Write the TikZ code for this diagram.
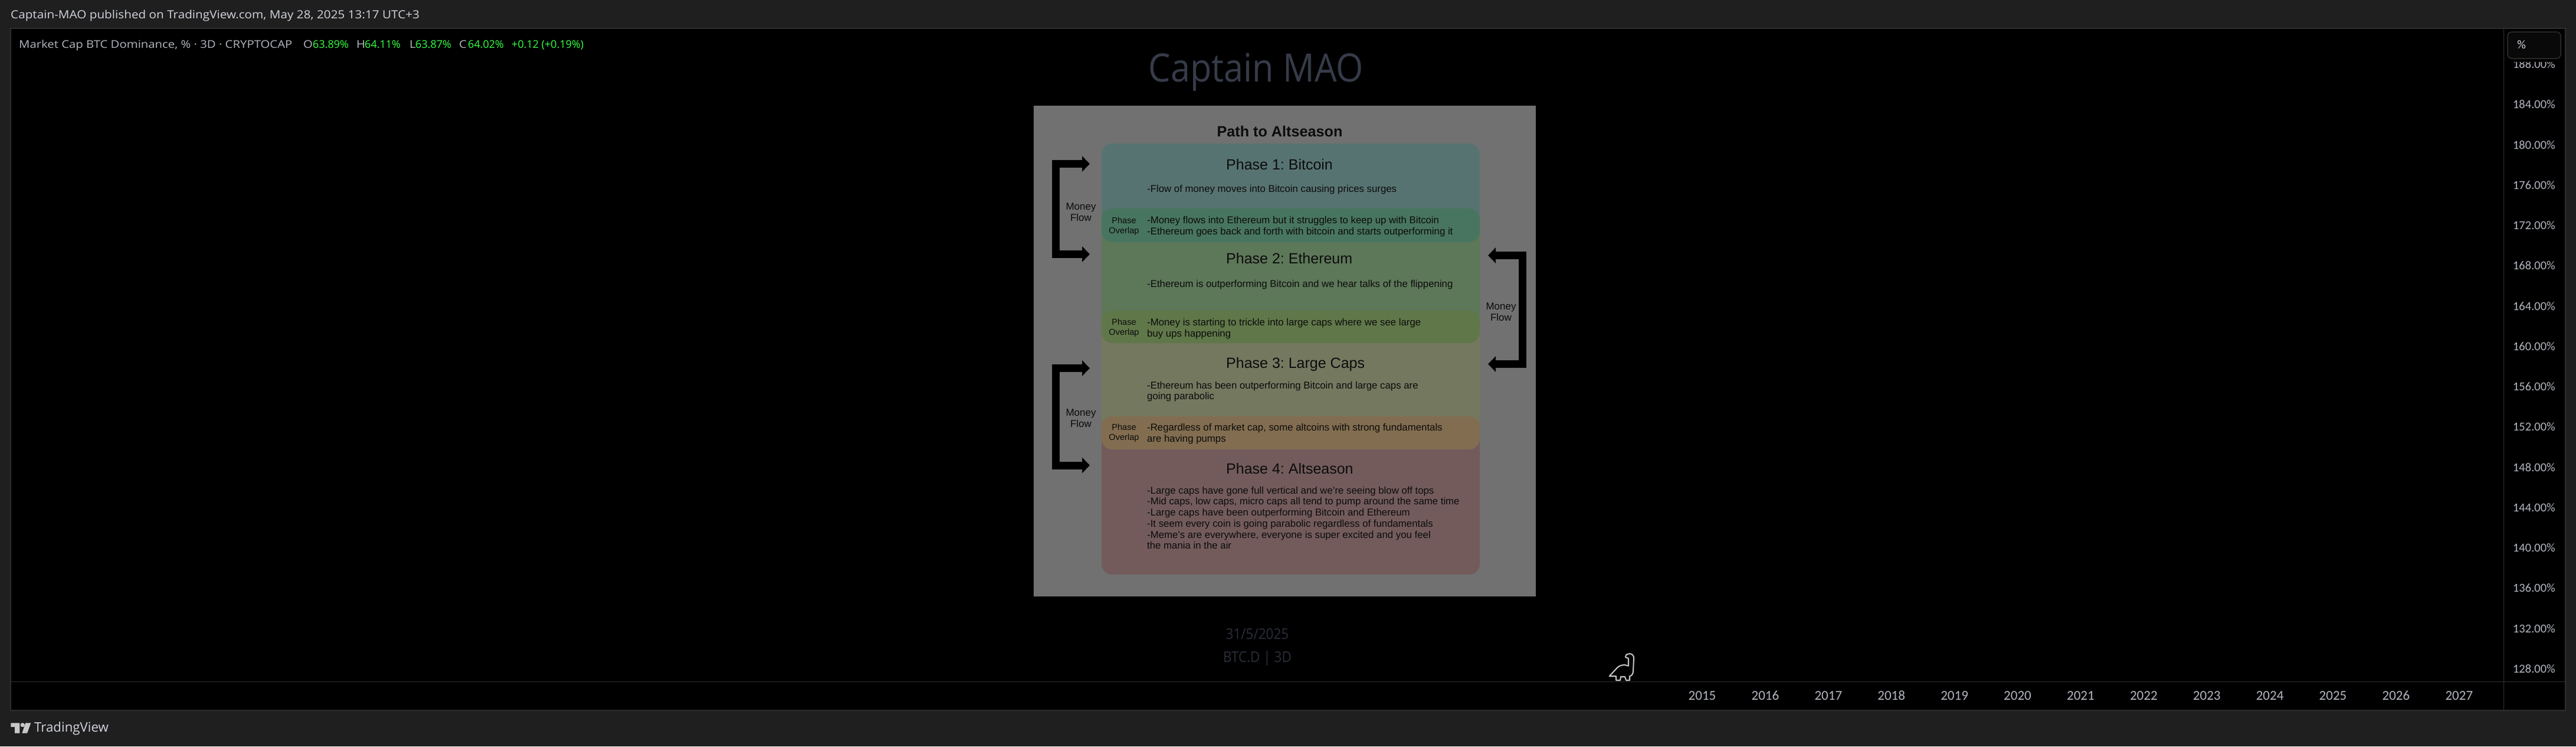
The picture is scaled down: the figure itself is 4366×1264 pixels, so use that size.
\documentclass[tikz,border=0pt]{standalone}
\usepackage{fontspec}
\usetikzlibrary{arrows.meta}
\setmainfont{Liberation Sans}
\newfontfamily\tvfont{Open Sans}
\newfontfamily\pubfont[FakeStretch=1.09]{Open Sans}
\newfontfamily\legendfont[FakeStretch=1.13]{Open Sans}
\newfontfamily\scalefont{Carlito}
\newfontfamily\markfont[FakeStretch=0.9]{Open Sans}

\definecolor{pagebg}{HTML}{1F1F1F}
\definecolor{rulegray}{HTML}{2E2E2E}
\definecolor{labelgray}{HTML}{B2B5BE}
\definecolor{labellight}{HTML}{D1D4DC}
\definecolor{logogray}{HTML}{C8C8C8}
\definecolor{upgreen}{HTML}{33FF44}
\definecolor{markblue}{HTML}{363B49}
\definecolor{markdim}{HTML}{2A2E39}
\definecolor{sheetgray}{HTML}{717171}
\definecolor{phaseone}{HTML}{577371}
\definecolor{phasetwo}{HTML}{5D7759}
\definecolor{phasethree}{HTML}{74785F}
\definecolor{phasefour}{HTML}{735B5C}
\definecolor{overlapone}{HTML}{48755F}
\definecolor{overlaptwo}{HTML}{607749}
\definecolor{overlapthree}{HTML}{826D50}
\definecolor{inkgray}{HTML}{0C0C0C}

\tikzset{
    pricelabel/.style={anchor=east, inner sep=0, text=labelgray, font=\scalefont\fontsize{20.5}{20.5}\selectfont},
    yearlabel/.style={inner sep=0, text=labelgray, font=\scalefont\fontsize{23}{23}\selectfont},
    legendtext/.style={anchor=base west, inner sep=0, text=labelgray, font=\legendfont\fontsize{18}{18}\selectfont},
    legendvalue/.style={anchor=base west, inner sep=0, text=upgreen, font=\tvfont\fontsize{18}{18}\selectfont},
    phasebox/.style={rounded corners=18, minimum width=641, inner sep=0, outer sep=0},
    phasehead/.style={anchor=base west, inner sep=0, text=inkgray, font=\fontsize{25}{25}\selectfont},
    phasebody/.style={anchor=west, align=left, text=inkgray, inner sep=0, font=\fontsize{16.8}{18.7}\selectfont},
    sidelabel/.style={align=center, text=inkgray, inner sep=0, font=\fontsize{14.6}{17}\selectfont},
    flowlabel/.style={align=center, text=inkgray, inner sep=0, font=\fontsize{17}{19}\selectfont},
    flowarrow/.style={line width=13, {Triangle[length=13, width=26]}-{Triangle[length=13, width=26]}},
}

\begin{document}
\frenchspacing
\begin{tikzpicture}[x=1pt, y=-1pt]
    \useasboundingbox (0,0) rectangle (4366,1264);
    \fill [pagebg] (0,0) rectangle (4366,1264);

    % chart area
    \draw [rulegray, line width=2, fill=black] (18,48) rectangle (4348,1203);
    \draw [rulegray, line width=1] (4243,48) -- (4243,1203);
    \draw [rulegray, line width=1] (18,1154) -- (4348,1154);

    % header
    \node [anchor=west, inner sep=0, text=labellight, font=\pubfont\fontsize{19}{19}\selectfont] (published) at (18,27) {Captain-MAO published on TradingView.com, May 28, 2025 13:17 UTC+3};
    \node [legendtext] (legend) at (32,81.5) {Market Cap BTC Dominance, \% · 3D · CRYPTOCAP};
    \node [legendtext] (openkey) at (514,81.5) {O};
    \node [legendvalue] (openval) at (530,81.5) {63.89\%};
    \node [legendtext] (highkey) at (604,81.5) {H};
    \node [legendvalue] (highval) at (618,81.5) {64.11\%};
    \node [legendtext] (lowkey) at (694,81.5) {L};
    \node [legendvalue] (lowval) at (704,81.5) {63.87\%};
    \node [legendtext] (closekey) at (778,81.5) {C};
    \node [legendvalue] (closeval) at (793,81.5) {64.02\%};
    \node [legendvalue] (change) at (867,81.5) {+0.12 (+0.19\%)};

    % price scale
    \foreach \price [count=\i from 0] in {188,184,...,128}
        \node [pricelabel] (price\price) at (4331,{108.8+68.25*\i}) {\price.00\%};
    \fill [black] (4244,50) rectangle (4347,105);
    \draw [rulegray, line width=1.5, fill=black!70!pagebg, rounded corners=7] (4250,54) rectangle (4340,99);
    \node [anchor=west, inner sep=0, text=labellight, font=\scalefont\fontsize{20.5}{20.5}\selectfont] (percent) at (4266,76) {\%};

    % time scale
    \foreach \year [count=\i from 0] in {2015,2016,...,2027}
        \node [yearlabel] (year\year) at ({2885+106.9*\i},1178) {\year};

    % watermark
    \node [text=markblue, inner sep=0, font=\markfont\fontsize{66}{66}\selectfont] (mark) at (2129,122) {Captain MAO};
    \node [text=markdim, inner sep=0, font=\markfont\fontsize{25}{25}\selectfont] (markdate) at (2131,1074) {31/5/2025};
    \node [text=markdim, inner sep=0, font=\markfont\fontsize{25}{25}\selectfont] (marksymbol) at (2131,1115) {BTC.D | 3D};

    % pasted sheet
    \fill [sheetgray] (1752,179) rectangle (2603,1010);
    \node [text=inkgray, inner sep=0, font=\bfseries\fontsize{25.2}{25.2}\selectfont] (sheettitle) at (2169,222) {Path to Altseason};

    \node [phasebox, fill=phaseone, minimum height=138] (phase1) at (2187.5,312) {};
    \node [phasebox, fill=phasetwo, minimum height=173] (phase2) at (2187.5,468) {};
    \node [phasebox, fill=phasethree, minimum height=179] (phase3) at (2187.5,643) {};
    \node [phasebox, fill=phasefour, minimum height=240] (phase4) at (2187.5,853) {};
    \node [phasebox, fill=overlapone, minimum height=57] (overlap1) at (2187.5,381.5) {};
    \node [phasebox, fill=overlaptwo, minimum height=55] (overlap2) at (2187.5,553.5) {};
    \node [phasebox, fill=overlapthree, minimum height=56] (overlap3) at (2187.5,733) {};

    \node [phasehead] (head1) at (2078,287) {Phase 1: Bitcoin};
    \node [phasehead] (head2) at (2078,446) {Phase 2: Ethereum};
    \node [phasehead] (head3) at (2078,623) {Phase 3: Large Caps};
    \node [phasehead] (head4) at (2078,802) {Phase 4: Altseason};

    \node [phasebody] (body1) at (1944,321) {-Flow of money moves into Bitcoin causing prices surges};
    \node [phasebody] (body2) at (1944,482) {-Ethereum is outperforming Bitcoin and we hear talks of the flippening};
    \node [phasebody] (body3) at (1944,663) {-Ethereum has been outperforming Bitcoin and large caps are\\going parabolic};
    \node [phasebody] (body4) at (1944,877) {-Large caps have gone full vertical and we're seeing blow off tops\\-Mid caps, low caps, micro caps all tend to pump around the same time\\-Large caps have been outperforming Bitcoin and Ethereum\\-It seem every coin is going parabolic regardless of fundamentals\\-Meme's are everywhere, everyone is super excited and you feel\\the mania in the air};
    \node [phasebody] (bodyo1) at (1944,383.5) {-Money flows into Ethereum but it struggles to keep up with Bitcoin\\-Ethereum goes back and forth with bitcoin and starts outperforming it};
    \node [phasebody] (bodyo2) at (1944,556.5) {-Money is starting to trickle into large caps where we see large\\buy ups happening};
    \node [phasebody] (bodyo3) at (1944,734.5) {-Regardless of market cap, some altcoins with strong fundamentals\\are having pumps};

    \node [sidelabel] (side1) at (1905,383.5) {Phase\\Overlap};
    \node [sidelabel] (side2) at (1905,555.5) {Phase\\Overlap};
    \node [sidelabel] (side3) at (1905,733.5) {Phase\\Overlap};

    \node [flowlabel] (flow1) at (1832,359.5) {Money\\Flow};
    \node [flowlabel] (flow2) at (1832,708) {Money\\Flow};
    \node [flowlabel] (flow3) at (2544,528.5) {Money\\Flow};

    % money flow arrows
    \coordinate (flow1a) at (1847,277.5);
    \coordinate (flow1b) at (1847,430.5);
    \coordinate (flow2a) at (1847,623.5);
    \coordinate (flow2b) at (1847,788);
    \coordinate (flow3a) at (2522,432.5);
    \coordinate (flow3b) at (2522,616.5);
    \coordinate (bar1) at (1789.5,277.5);
    \coordinate (bar2) at (1789.5,623.5);
    \coordinate (bar3) at (2580,432.5);
    \draw [flowarrow] (flow1a) -- (bar1) -- (bar1 |- flow1b) -- (flow1b);
    \draw [flowarrow] (flow2a) -- (bar2) -- (bar2 |- flow2b) -- (flow2b);
    \draw [flowarrow] (flow3a) -- (bar3) -- (bar3 |- flow3b) -- (flow3b);

    % footer
    \fill [logogray] (18.3,1224.3) -- (33.3,1224.3) -- (33.3,1241.7) -- (25,1241.7) -- (25,1231) -- (18.3,1231) -- cycle;
    \fill [logogray] (38.3,1227.7) circle (3.6);
    \fill [logogray] (43.3,1224.3) -- (52.3,1224.3) -- (46,1241.7) -- (37.3,1241.7) -- cycle;
    \node [anchor=west, inner sep=0, text=labellight, font=\tvfont\fontsize{22.3}{22.3}\selectfont] (brand) at (58,1234) {TradingView};

    % dino
    \draw [logogray, line width=2, line join=round]
        (2727.7,1145) -- (2741.7,1130) .. controls (2745,1127) and (2750,1126) .. (2754,1126)
        -- (2760,1127.7) -- (2760,1115) -- (2755,1113) .. controls (2755,1108) and (2759,1107) .. (2762,1107)
        .. controls (2766,1107) and (2769,1110) .. (2769,1114)
        -- (2768,1137) .. controls (2768,1141) and (2765,1145) .. (2762,1145)
        -- (2762,1152) -- (2756,1152) -- (2754,1146) -- (2747,1146) -- (2746,1152) -- (2739,1152) -- (2739,1145) -- cycle;
\end{tikzpicture}
\end{document}
